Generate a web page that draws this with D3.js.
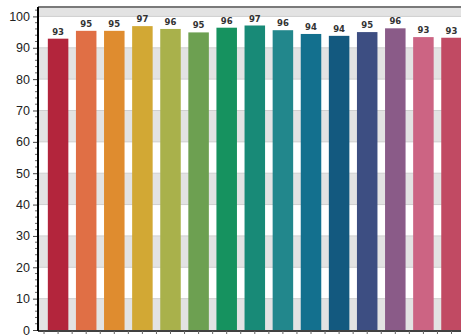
<!DOCTYPE html>
<head>
    <meta charset="utf-8">
    <title>Bars</title>
    <script src="https://cdn.jsdelivr.net/npm/d3@7"></script>
    <style>
        body { margin: 0; background: #fff; }
        svg { display: block; }
        .ylab { font-family: "Liberation Sans", Arial, sans-serif; font-size: 12.5px; fill: #222; }
        .vlab { font-family: "DejaVu Sans", sans-serif; font-size: 8.5px; font-weight: bold; fill: #333; }
    </style>
</head>
<body>
    <svg id="chart"></svg>
    <script>
        // values
        const categories = ["c1", "c2", "c3", "c4", "c5", "c6", "c7", "c8", "c9", "c10", "c11", "c12", "c13", "c14", "c15"];
        const values = [92.9, 95.4, 95.4, 96.9, 96.0, 94.9, 96.4, 97.1, 95.6, 94.4, 93.8, 95.0, 96.2, 93.4, 93.2];
        const colors = ["#b3253c", "#e06f45", "#df8c2f", "#d2a834", "#a9b14b", "#6da051", "#16925f", "#188a77",
            "#22878c", "#13708e", "#13597f", "#3d4e82", "#8a5b88", "#cc6483", "#c14a63"];
        const yTicks = [0, 10, 20, 30, 40, 50, 60, 70, 80, 90, 100];

        const W = 461, H = 336;
        const mLeft = 38, mTop = 7, mBottom = 330;

        let svg = d3.select("#chart").attr("width", W).attr("height", H);

        let y = d3.scaleLinear().domain([0, 103]).range([mBottom, mTop]);
        let x = d3.scaleBand().domain(categories)
            .range([mLeft, 471.6])
            .paddingInner(0.27)
            .paddingOuter(0.35);

        // alternating bands
        let bandStarts = d3.range(0, 103, 10);
        svg.append("g").selectAll("rect")
            .data(bandStarts)
            .join("rect")
            .attr("x", mLeft)
            .attr("width", W - mLeft)
            .attr("y", d => y(Math.min(d + 10, 103)))
            .attr("height", d => y(d) - y(Math.min(d + 10, 103)))
            .attr("fill", d => (d / 10) % 2 == 0 ? "#e3e3e3" : "#ffffff");

        // grid lines
        svg.append("g").selectAll("line")
            .data(yTicks.slice(1))
            .join("line")
            .attr("x1", mLeft).attr("x2", W)
            .attr("y1", d => y(d)).attr("y2", d => y(d))
            .attr("stroke", "#cfcfcf").attr("stroke-width", 1);

        // top border
        svg.append("line")
            .attr("x1", mLeft).attr("x2", W)
            .attr("y1", mTop).attr("y2", mTop)
            .attr("stroke", "#7a7a7a").attr("stroke-width", 2);

        // bars
        svg.append("g").selectAll("rect")
            .data(values)
            .join("rect")
            .attr("x", (d, i) => x(categories[i]))
            .attr("width", x.bandwidth())
            .attr("y", d => y(d))
            .attr("height", d => y(0) - y(d))
            .attr("fill", (d, i) => colors[i]);

        // value labels
        svg.append("g").selectAll("text")
            .data(values)
            .join("text")
            .attr("class", "vlab")
            .attr("x", (d, i) => x(categories[i]) + x.bandwidth() / 2)
            .attr("y", d => y(d) - 4)
            .attr("text-anchor", "middle")
            .text(d => d3.format(".0f")(d));

        // y axis
        let yAxis = svg.append("g")
            .attr("transform", `translate(${mLeft},0)`)
            .call(d3.axisLeft(y).tickValues(yTicks).tickSize(5).tickPadding(3));
        yAxis.select(".domain").remove();
        yAxis.selectAll("text").attr("class", "ylab").attr("fill", null);
        yAxis.selectAll("line").attr("stroke", "#444");

        // minor ticks
        svg.append("g").selectAll("line")
            .data(d3.range(0, 103, 2).filter(d => d % 10 != 0))
            .join("line")
            .attr("x1", mLeft - 3).attr("x2", mLeft)
            .attr("y1", d => y(d)).attr("y2", d => y(d))
            .attr("stroke", "#666");

        svg.append("line")
            .attr("x1", mLeft).attr("x2", mLeft)
            .attr("y1", mTop).attr("y2", mBottom + 1)
            .attr("stroke", "#000").attr("stroke-width", 2);

        // x axis
        let xTickPos = [];
        categories.forEach(c => {
            xTickPos.push(x(c) - x.step() * x.paddingInner() / 2);
            xTickPos.push(x(c) + x.bandwidth() / 2);
        });
        svg.append("line")
            .attr("x1", mLeft).attr("x2", W)
            .attr("y1", mBottom + 1).attr("y2", mBottom + 1)
            .attr("stroke", "#000").attr("stroke-width", 1.5);
        svg.append("g").selectAll("line")
            .data(xTickPos)
            .join("line")
            .attr("x1", d => d).attr("x2", d => d)
            .attr("y1", mBottom + 1).attr("y2", mBottom + 4)
            .attr("stroke", "#666");
    </script>
</body>
